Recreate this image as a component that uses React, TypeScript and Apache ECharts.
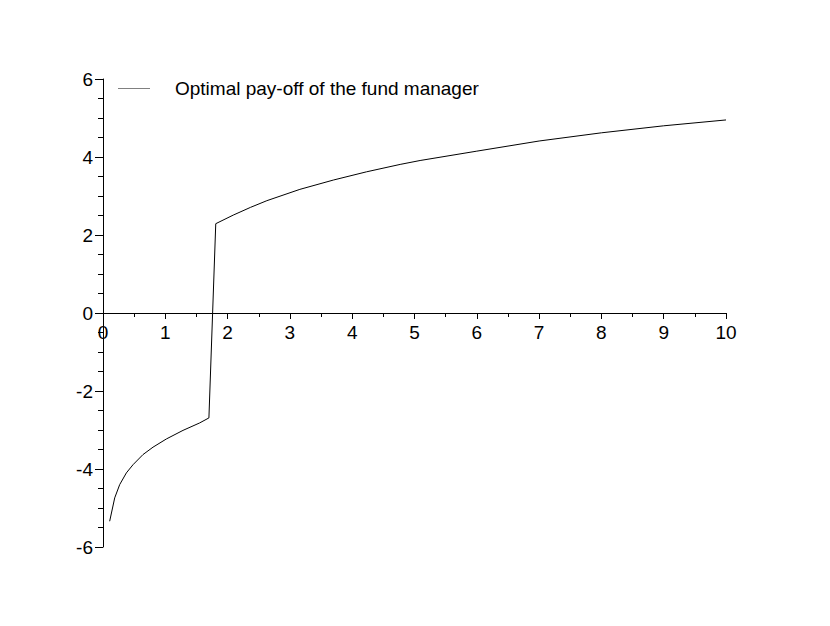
import React, { useEffect, useRef } from "react";
import * as echarts from "echarts";

const seriesName = "Optimal pay-off of the fund manager";
const xValues = [0.107, 0.188, 0.268, 0.375, 0.482, 0.642, 0.803, 1.017, 1.284, 1.55, 1.7, 1.81, 2.09, 2.37, 2.63, 3.16, 3.7, 4.23, 4.77, 5.09, 6, 7, 8, 9, 10];
const yValues = [-5.34, -4.74, -4.4, -4.1, -3.89, -3.63, -3.44, -3.23, -3.01, -2.82, -2.69, 2.29, 2.51, 2.71, 2.88, 3.17, 3.41, 3.62, 3.81, 3.91, 4.15, 4.41, 4.62, 4.8, 4.95];
const xMin = 0, xMax = 10, xStep = 1;
const yMin = -6, yMax = 6, yStep = 2;

const FONT = "'Liberation Sans', Arial, Helvetica, sans-serif";
const GRID = { left: 103, right: 104, top: 79, bottom: 79 };
const H = 626;

export default function App() {
  const ref = useRef<HTMLDivElement>(null);
  useEffect(() => {
    if (!ref.current) return;
    const chart = echarts.init(ref.current, null, { renderer: "svg" });
    const data = xValues.map((x, i) => [x, yValues[i]]);
    const plotH = H - GRID.top - GRID.bottom;
    const zeroOffset = -plotH * (0 - yMin) / (yMax - yMin);
    chart.setOption({
      animation: false,
      backgroundColor: "#fff",
      textStyle: { fontFamily: FONT },
      grid: { ...GRID, containLabel: false },
      legend: {
        show: true,
        left: 118,
        top: 79,
        padding: 0,
        itemWidth: 32,
        itemHeight: 14,
        textStyle: { color: "#000", fontSize: 19, fontFamily: FONT, padding: [0, 0, 0, 20] },
        data: [{ name: seriesName, icon: "path://M0,0 L32,0 L32,0.5 L0,0.5 Z" }],
        itemStyle: { color: "#000" },
      },
      xAxis: {
        type: "value",
        min: xMin,
        max: xMax,
        interval: xStep,
        position: "bottom",
        offset: zeroOffset,
        axisLine: { show: true, onZero: false, lineStyle: { color: "#000", width: 1 } },
        splitLine: { show: false },
        axisTick: { show: true, length: 6, lineStyle: { color: "#000" } },
        minorTick: { show: true, splitNumber: 2, length: 4, lineStyle: { color: "#000" } },
        axisLabel: { color: "#000", fontSize: 19, fontFamily: FONT, margin: 10 },
      },
      yAxis: {
        type: "value",
        min: yMin,
        max: yMax,
        interval: yStep,
        axisLine: { show: true, onZero: false, lineStyle: { color: "#000", width: 1 } },
        splitLine: { show: false },
        axisTick: { show: true, length: 8, lineStyle: { color: "#000" } },
        minorTick: { show: true, splitNumber: 4, length: 5, lineStyle: { color: "#000" } },
        axisLabel: { color: "#000", fontSize: 19, fontFamily: FONT, margin: 10 },
      },
      series: [
        {
          name: seriesName,
          type: "line",
          data,
          showSymbol: false,
          symbol: "none",
          smooth: false,
          lineStyle: { color: "#000", width: 1 },
          itemStyle: { color: "#000" },
        },
      ],
    });
    return () => chart.dispose();
  }, []);
  return (
    <div
      ref={ref}
      style={{ position: "fixed", left: 0, top: 0, width: 830, height: H, background: "#fff" }}
    />
  );
}
